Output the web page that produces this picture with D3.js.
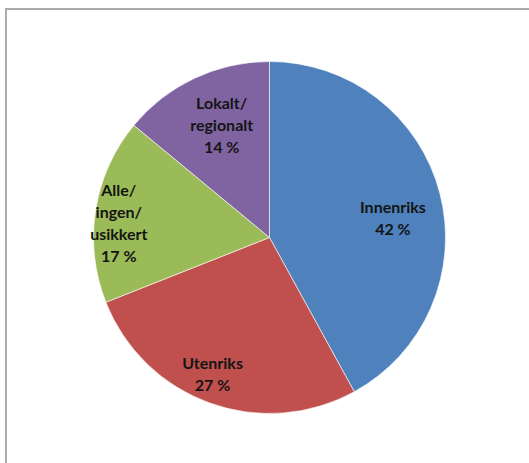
<!DOCTYPE html>
<html>
<head>
<meta charset="utf-8">
<script src="https://cdn.jsdelivr.net/npm/d3@7/dist/d3.min.js"></script>
<style>
  html, body { margin: 0; padding: 0; background: #fff; }
  svg { display: block; }
</style>
</head>
<body>
<svg id="chart" width="529" height="463"></svg>
<script>
// Share of answers by market
const categories = ["Innenriks", "Utenriks", "Alle/ingen/usikkert", "Lokalt/regionalt"];
const labelLines = [["Innenriks"], ["Utenriks"], ["Alle/", "ingen/", "usikkert"], ["Lokalt/", "regionalt"]];
const values = [42, 27, 17, 14];
const colors = ["#4F81BD", "#C0504D", "#9BBB59", "#8064A2"];

const width = 529, height = 463;
const cx = 269.5, cy = 237.5, radius = 176;
// how far out (fraction of the radius) and how far round each label sits
const labelRadius = [0.71, 0.84, 0.86, 0.69];
const labelTurn = [0.095, 0.05, -0.065, 0.035];
const lineHeight = 22;

const svg = d3.select("#chart");

// chart-area frame
svg.append("rect")
  .attr("x", 6).attr("y", 9)
  .attr("width", 600).attr("height", 600)
  .attr("fill", "none")
  .attr("stroke", "#ababab")
  .attr("stroke-width", 2);

const pie = d3.pie().sort(null).value(d => d);
const arcs = pie(values);
const arc = d3.arc().innerRadius(0).outerRadius(radius);

const g = svg.append("g").attr("transform", `translate(${cx},${cy})`);

g.selectAll("path.slice")
  .data(arcs)
  .join("path")
  .attr("class", "slice")
  .attr("d", arc)
  .attr("fill", (d, i) => colors[i])
  .attr("stroke", "#ffffff")
  .attr("stroke-width", 0.6);

g.selectAll("text.lbl")
  .data(arcs)
  .join("text")
  .attr("class", "lbl")
  .attr("font-family", "Lato, 'Open Sans', sans-serif")
  .attr("font-weight", "bold")
  .attr("font-size", 16)
  .attr("fill", "#141414")
  .attr("text-anchor", "middle")
  .each(function(d, i) {
    const a = (d.startAngle + d.endAngle) / 2 + labelTurn[i];
    const r = radius * labelRadius[i];
    const x = Math.sin(a) * r, y = -Math.cos(a) * r;
    const lines = labelLines[i].concat([`${values[i]} %`]);
    const top = y - (lines.length - 1) * lineHeight / 2;
    const t = d3.select(this);
    lines.forEach((s, k) => {
      t.append("tspan")
        .attr("x", x)
        .attr("y", top + k * lineHeight)
        .attr("dy", "0.35em")
        .text(s);
    });
  });
</script>
</body>
</html>
